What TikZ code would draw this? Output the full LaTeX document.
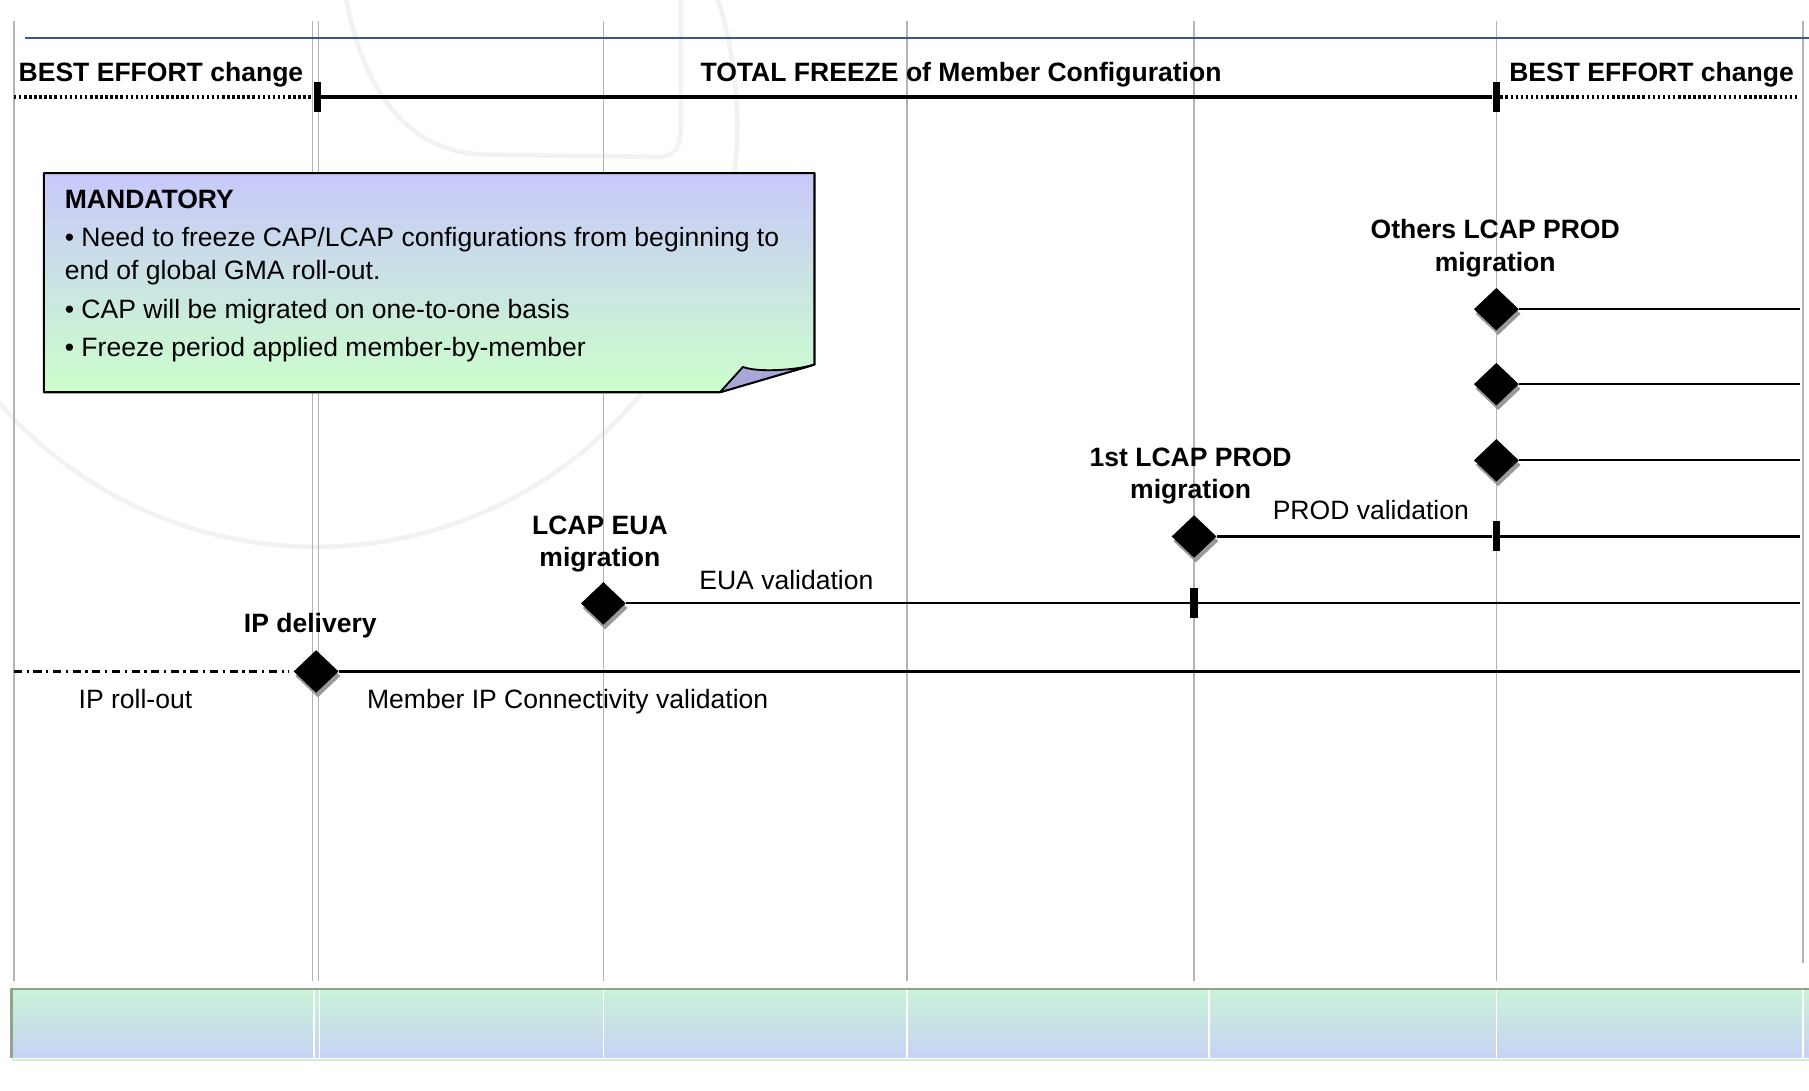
\documentclass[tikz,border=0pt]{standalone}
\usepackage{fontspec}
\setmainfont{Liberation Sans}
\usetikzlibrary{shapes.geometric,shadows}
\definecolor{gridgray}{HTML}{B4B4B4}
\definecolor{topblue}{HTML}{2F5A9A}
\definecolor{notetop}{HTML}{C8C8FA}
\definecolor{notebot}{HTML}{CCFFCC}
\definecolor{flapfill}{HTML}{A8A8D8}
\definecolor{bandtop}{HTML}{C9F3D6}
\definecolor{bandbot}{HTML}{C8D2F5}
\definecolor{bandedge}{HTML}{8FA38F}
\definecolor{wmark}{HTML}{F2F2F5}
\begin{document}
\begin{tikzpicture}[x=1pt,y=-1pt,
  lbl/.style={font=\fontsize{23}{28}\selectfont, inner sep=0pt},
  blbl/.style={font=\fontsize{23}{28}\selectfont\bfseries, inner sep=0pt},
  milestone/.style={diamond, fill=black, inner sep=0pt, minimum width=39pt, minimum height=37pt,
    drop shadow={shadow xshift=1.5pt, shadow yshift=-4pt, fill=black!40, opacity=1}},
  tickbar/.style={rectangle, fill=black, inner sep=0pt, minimum width=6.5pt, minimum height=26pt},
  bar/.style={line width=1.9pt, black},
  gridline/.style={gridgray, line width=1.4pt},
  dotline/.style={line width=3pt, dash pattern=on 2.2pt off 2.2pt},
  freeze/.style={line width=3.5pt},
  dashdotline/.style={line width=1.8pt, dash pattern=on 7pt off 4pt on 2pt off 4pt}]
\useasboundingbox (0,0) rectangle (1568,945);
\fill[white] (0,0) rectangle (1568,945);
% watermark
\begin{scope}
\clip (0,0) rectangle (1568,945);
\draw[wmark, line width=4pt] (274,109) circle (365);
\draw[wmark, line width=4pt] (300,0) .. controls (318,90) and (360,132) .. (420,134) -- (570,136) .. controls (585,136) and (590,128) .. (590,110) -- (590,0);
\end{scope}
% grid
\foreach \x in {12,271,276,523,786,1035,1297} \draw[gridline] (\x,18) -- (\x,850);
\draw[gridline] (1563,18) -- (1563,835);
\draw[topblue, line width=2.4pt] (22,33) -- (1568,33);
% top freeze row
\coordinate (tl) at (12,84);
\coordinate (tr) at (1558,84);
\node[tickbar] (fz1) at (275,84) {};
\node[tickbar] (fz2) at (1297,84) {};
\draw[dotline] (tl) -- (fz1.west);
\draw[freeze] (fz1) -- (fz2);
\draw[dotline] (fz2.east) -- (tr);
\node[blbl, anchor=base west] (be1) at (16,71) {BEST EFFORT change};
\node[blbl, anchor=base] (tf) at (833,71) {TOTAL FREEZE of Member Configuration};
\node[blbl, anchor=base west] (be2) at (1308,71) {BEST EFFORT change};
% note
\path[draw=black, line width=1.8pt, line join=round, top color=notetop, bottom color=notebot]
  (38,150) -- (706,150) -- (706,316) -- (624,340) -- (38,340) -- cycle;
\path[draw=black, line width=1.6pt, line join=round, fill=flapfill]
  (624,340) -- (644,318) .. controls (656,323) and (690,321) .. (706,316) -- cycle;
\node[blbl, anchor=base west] (nt0) at (56,181) {MANDATORY};
\node[lbl, anchor=base west] (nt1) at (56,214) {• Need to freeze CAP/LCAP configurations from beginning to};
\node[lbl, anchor=base west] (nt2) at (56,242) {end of global GMA roll-out.};
\node[lbl, anchor=base west] (nt3) at (56,276) {• CAP will be migrated on one-to-one basis};
\node[lbl, anchor=base west] (nt4) at (56,309) {• Freeze period applied member-by-member};
% rows
\coordinate (eA) at (1560,268);
\coordinate (eB) at (1560,333);
\coordinate (eC) at (1560,399);
\coordinate (eD) at (1560,465);
\coordinate (eE) at (1560,523);
\coordinate (eF) at (1560,582);
\coordinate (sF) at (12,582);
\node[tickbar] (tD) at (1297,465) {};
\node[tickbar] (tE) at (1035,523) {};
\node[milestone] (mA) at (1297,268) {};
\node[milestone] (mB) at (1297,333) {};
\node[milestone] (mC) at (1297,399) {};
\node[milestone] (mD) at (1035,465) {};
\node[milestone] (mE) at (523,523) {};
\node[milestone] (mF) at (274,582) {};
\draw[bar] (mA.east) -- (eA);
\draw[bar] (mB.east) -- (eB);
\draw[bar] (mC.east) -- (eC);
\draw[bar] (mD.east) -- (tD) -- (eD);
\draw[bar] (mE.east) -- (tE) -- (eE);
\draw[bar] (mF.east) -- (eF);
\draw[dashdotline] (sF) -- ([xshift=-4pt]mF.west);
% labels
\node[blbl, anchor=base] (lA1) at (1296,207) {Others LCAP PROD};
\node[blbl, anchor=base] (lA2) at (1296,235) {migration};
\node[blbl, anchor=base] (lD1) at (1032,404) {1st LCAP PROD};
\node[blbl, anchor=base] (lD2) at (1032,432) {migration};
\node[lbl, anchor=base west] (vD) at (1103,450) {PROD validation};
\node[blbl, anchor=base] (lE1) at (520,463) {LCAP EUA};
\node[blbl, anchor=base] (lE2) at (520,491) {migration};
\node[lbl, anchor=base west] (vE) at (606,511) {EUA validation};
\node[blbl, anchor=base] (lF) at (269,548) {IP delivery};
\node[lbl, anchor=base west] (vF0) at (68,614) {IP roll-out};
\node[lbl, anchor=base west] (vF) at (318,614) {Member IP Connectivity validation};
% bottom band
\path[top color=bandtop, bottom color=bandbot] (10,857) rectangle (1568,917);
\draw[bandtop, line width=2pt] (10,919) -- (1568,919);
\draw[bandedge, line width=2pt] (10,917) -- (10,857) -- (1568,857);
\foreach \x in {272,277,523,786,1048,1297,1563} \draw[white, line width=1.5pt] (\x,858) -- (\x,917);
\end{tikzpicture}
\end{document}
